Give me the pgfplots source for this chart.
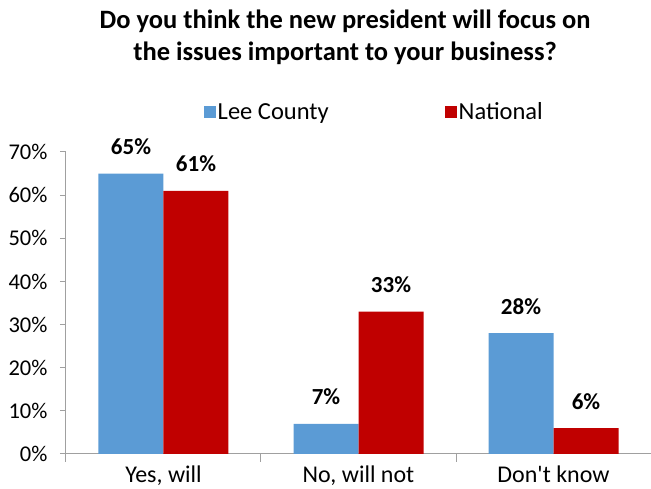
\documentclass[border=0pt]{standalone}
\usepackage{fontspec}
\setmainfont{Carlito}
\usepackage{pgfplots}
\pgfplotsset{compat=1.18}
\usetikzlibrary{calc}
\definecolor{leeblue}{HTML}{5B9BD5}
\definecolor{natred}{HTML}{C00000}
\definecolor{axgray}{HTML}{A0A0A0}
\begin{document}
\begin{tikzpicture}
\begin{axis}[
  scale only axis,
  width=585pt, height=302pt,
  xmin=-0.5, xmax=2.5,
  ymin=0, ymax=70,
  ybar=0pt, bar width=65pt,
  axis x line*=bottom, axis y line*=left,
  axis line style={axgray, line width=1pt},
  xtick={0,1,2},
  xticklabels={{Yes, will},{No, will not},{Don\textquotesingle t know}},
  major x tick style={draw=none},
  minor xtick={-0.5,0.5,1.5,2.5},
  minor x tick style={axgray, line width=1pt},
  minor tick length=8pt,
  ytick={0,10,...,70},
  yticklabel={\pgfmathprintnumber{\tick}\%},
  y tick style={axgray, line width=1pt},
  major tick length=6pt,
  tick align=outside,
  /pgf/number format/assume math mode=true,
  tick label style={font=\fontsize{22.5}{26}\selectfont, text=black},
  yticklabel style={xshift=-9pt},
  xticklabel style={font=\fontsize{24}{26}\selectfont, anchor=base, inner sep=0.5pt, yshift=-23pt},
  nodes near coords={\pgfmathprintnumber{\pgfplotspointmeta}\%},
  nodes near coords style={font=\bfseries\fontsize{23}{26}\selectfont, text=black, anchor=base, yshift=19pt},
  clip=false,
  legend style={draw=none, at={(0.527,1)}, anchor=center, yshift=40pt,
    legend columns=2, font=\fontsize{24.5}{28}\selectfont,
    /tikz/every even column/.append style={column sep=114pt}},
  legend image code/.code={\fill[#1] (0pt,-6pt) rectangle (12pt,6pt);},
  title={\bfseries Do you think the new president will focus on\\ \bfseries the issues important to your business?},
  title style={at={(0.477,1)}, anchor=center, yshift=109pt, align=center,
    font=\fontsize{26.5}{32}\selectfont},
]
\addplot[fill=leeblue, draw=none] coordinates {(0,65) (1,7) (2,28)};
\addplot[fill=natred, draw=none] coordinates {(0,61) (1,33) (2,6)};
\legend{Lee County, National}
\end{axis}
\pgfresetboundingbox
\path ($(current axis.south west)+(-66pt,-35pt)$) rectangle ($(current axis.south west)+(585pt,454pt)$);
\end{tikzpicture}
\end{document}
